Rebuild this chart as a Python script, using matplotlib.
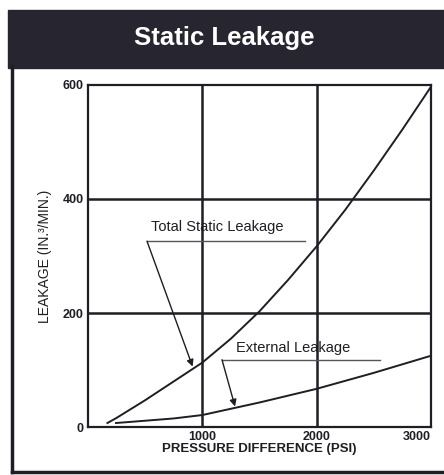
import matplotlib.pyplot as plt
from matplotlib.patches import Rectangle
from matplotlib.lines import Line2D

plt.rcParams["font.family"] = ["Liberation Sans Narrow", "Liberation Sans", "DejaVu Sans"]

# curve values
total_x = [170, 250, 500, 750, 1000, 1250, 1500, 1750, 2000, 2250, 2500, 2750, 3000]
total_y = [7, 16, 47, 80, 113, 155, 203, 258, 317, 381, 450, 522, 597]
ext_x = [245, 500, 750, 1000, 1250, 1500, 1750, 2000, 2250, 2500, 2750, 3000]
ext_y = [7, 11, 15, 21, 32, 43, 55, 67, 81, 95, 110, 125]

x_ticks = [1000, 2000, 3000]
y_ticks = [0, 200, 400, 600]

INK = "#1e1e24"

fig = plt.figure(figsize=(4.44, 4.75), dpi=100)
fig.patch.set_facecolor("white")

# header band and frame
fig.patches.append(Rectangle((8 / 444, 1 - 68 / 475), 1, 58 / 475,
                             transform=fig.transFigure, color="#27252f", zorder=0))
fig.text(0.506, 0.921, "Static Leakage", color="white", fontsize=18.5,
         fontweight="bold", ha="center", va="center")
fig.add_artist(Line2D([12 / 444, 12 / 444], [1 - 472 / 475, 1 - 66 / 475],
                      transform=fig.transFigure, color=INK, lw=2.5))
fig.add_artist(Line2D([12 / 444, 1], [1 - 472 / 475, 1 - 472 / 475],
                      transform=fig.transFigure, color=INK, lw=2.5))

ax = fig.add_axes([88 / 444, 1 - 427 / 475, 343 / 444, 342 / 475])
ax.set_xlim(0, 3000)
ax.set_ylim(0, 600)
for s in ax.spines.values():
    s.set_linewidth(1.6)
    s.set_color(INK)

for v in [1000, 2000]:
    ax.axvline(v, color=INK, lw=1.8, zorder=1)
for v in [200, 400]:
    ax.axhline(v, color=INK, lw=1.8, zorder=1)

ax.plot(total_x, total_y, color=INK, lw=1.4, zorder=3, solid_joinstyle="round")
ax.plot(ext_x, ext_y, color=INK, lw=1.4, zorder=3, solid_joinstyle="round")

ax.set_xticks(x_ticks)
ax.set_yticks(y_ticks)
ax.tick_params(length=0, labelsize=9, colors=INK, pad=3)
for lab in ax.get_xticklabels() + ax.get_yticklabels():
    lab.set_fontweight("bold")
ax.get_xticklabels()[-1].set_horizontalalignment("right")

ax.set_xlabel("PRESSURE DIFFERENCE (PSI)", fontsize=9.5, fontweight="bold",
              color=INK, labelpad=0)
ax.set_ylabel("LEAKAGE (IN.\u00b3/MIN.)", fontsize=10, color=INK, labelpad=8)

# annotations
ax.text(1129, 351, "Total Static Leakage", fontsize=10.5, ha="center", va="center", color=INK)
ax.plot([516, 1900], [326, 326], color="#55555c", lw=1.0)
ax.annotate("", xy=(915, 106), xytext=(516, 326),
            arrowprops=dict(arrowstyle="-|>", color=INK, lw=1.0,
                            mutation_scale=10, shrinkA=0, shrinkB=0))

ax.text(1794, 139, "External Leakage", fontsize=10.5, ha="center", va="center", color=INK)
ax.plot([1172, 2555], [118, 118], color="#55555c", lw=1.0)
ax.annotate("", xy=(1286, 36), xytext=(1172, 118),
            arrowprops=dict(arrowstyle="-|>", color=INK, lw=1.0,
                            mutation_scale=10, shrinkA=0, shrinkB=0))

fig.savefig("out.png", dpi=100)
